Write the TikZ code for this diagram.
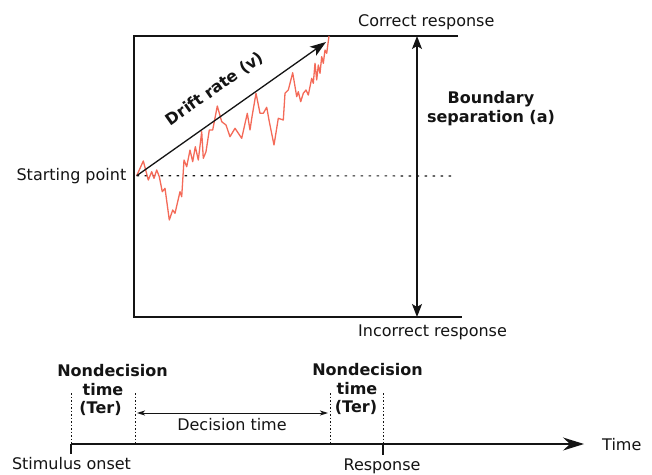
\documentclass[tikz,border=0pt]{standalone}
\usepackage{fontspec}
\setmainfont{DejaVu Sans}
\usetikzlibrary{arrows.meta}
\definecolor{walkred}{RGB}{244,106,88}
\definecolor{ink}{RGB}{20,20,20}
\begin{document}
\begin{tikzpicture}[x=1pt,y=-1pt,
  txt/.style={font=\fontsize{16}{19}\selectfont, inner sep=0pt, anchor=base, text=ink},
  btxt/.style={font=\fontsize{16}{19}\selectfont\bfseries, inner sep=0pt, anchor=base, text=ink},
  bound/.style={line width=1.5pt, draw=ink},
  bigarrow/.style={line width=1.3pt, draw=ink, -{Stealth[length=16pt,width=11pt,inset=4pt]}},
  dblarrow/.style={line width=1.3pt, draw=ink, {Stealth[length=13pt,width=10pt,inset=3pt]}-{Stealth[length=13pt,width=10pt,inset=3pt]}},
  smallarrow/.style={line width=1pt, draw=ink, {Stealth[length=8pt,width=5pt,inset=2pt]}-{Stealth[length=8pt,width=5pt,inset=2pt]}},
  timearrow/.style={line width=1.3pt, draw=ink, -{Stealth[length=21pt,width=13pt,inset=7pt]}},
  dotline/.style={line width=1.1pt, draw=ink, dash pattern=on 2.5pt off 5.5pt},
  fineline/.style={line width=1pt, draw=ink, dash pattern=on 1.5pt off 2pt},
  walk/.style={line width=1.3pt, draw=walkred, line join=round}
]
\fill[white] (0,0) rectangle (652,474);
\useasboundingbox (0,0) rectangle (652,474);

% boundaries box
\coordinate (TR) at (458,36);
\coordinate (TL) at (134,36);
\coordinate (BL) at (134,317);
\coordinate (BR) at (462,317);
\draw[bound] (TR) -- (TL) -- (BL) -- (BR);

% starting point dotted line
\coordinate (S) at (136.7,175.7);
\coordinate (SD) at (452,176);
\draw[dotline] (S) -- (SD);

% random walk
\draw[walk] (136.7,175.7) -- (143.3,161) -- (148.3,180) -- (151.7,171.7) -- (154,178.3) -- (156.7,170) -- (159.3,176.7) -- (162.3,191.7) -- (165,188.3) -- (169.3,220) -- (172.7,210) -- (175,213.3) -- (180,191.7) -- (181.7,196.7) -- (184,160) -- (186.7,166.7) -- (190,150) -- (192.7,161.7) -- (195.3,146.7) -- (198.3,160) -- (201.7,131.7) -- (203.3,158.3) -- (206,151.7) -- (209.3,130) -- (212.7,130) -- (217.3,106) -- (221.7,121.7) -- (226,125) -- (230,136.7) -- (235,128.3) -- (241.7,138.3) -- (247.3,113.3) -- (250,130) -- (252,116.7) -- (256,93.3) -- (260,113.3) -- (263.3,113.3) -- (266.7,107.3) -- (269.3,121.7) -- (274,145) -- (278.3,118.3) -- (283.3,120) -- (285,93.3) -- (288.3,90) -- (292.7,72.7) -- (296.7,96.7) -- (298.3,91.7) -- (300.7,101.7) -- (303.3,93.3) -- (306,90) -- (308.3,95) -- (311.7,78.3) -- (313.3,83.3) -- (315,63.3) -- (316.7,80) -- (318.3,65) -- (320,73.3) -- (321.7,56.7) -- (323.3,63.3) -- (325,50) -- (326.7,53.3) -- (329,36);

% drift arrow
\coordinate (E) at (326,42);
\draw[bigarrow] (S) -- (E);
\node[btxt, anchor=center, rotate=35.1] (drift) at (215,89) {Drift rate (v)};

% boundary separation arrow
\coordinate (AT) at (417,36);
\coordinate (AB) at (417,317);
\draw[dblarrow] (AT) -- (AB);
\node[btxt] (bsep1) at (491,103.5) {Boundary};
\node[btxt] (bsep2) at (491,122.7) {separation (a)};

% labels
\node[txt, anchor=base west] (correct) at (358,26.5) {Correct response};
\node[txt, anchor=base west] (incorrect) at (358,336.7) {Incorrect response};
\node[txt, anchor=base east] (startpt) at (126.5,180) {Starting point};

% timeline
\coordinate (T0) at (71,444);
\coordinate (T1) at (584,444);
\draw[timearrow] (T0) -- (T1);
\coordinate (K0) at (71,453.5);
\coordinate (R0) at (383,444);
\coordinate (R1) at (383,455);
\draw[line width=1.3pt, draw=ink] (T0) -- (K0);
\draw[line width=1.3pt, draw=ink] (R0) -- (R1);

% dashed verticals
\coordinate (V1t) at (71,393);
\coordinate (V2t) at (135,393);
\coordinate (V2b) at (135,444);
\coordinate (V3t) at (330,393);
\coordinate (V3b) at (330,444);
\coordinate (V4t) at (383,393);
\draw[fineline] (V1t) -- (T0);
\draw[fineline] (V2t) -- (V2b);
\draw[fineline] (V3t) -- (V3b);
\draw[fineline] (V4t) -- (R0);

% decision time arrow
\coordinate (D0) at (137,413);
\coordinate (D1) at (328,413);
\draw[smallarrow] (D0) -- (D1);
\node[txt] (dec) at (232,430) {Decision time};

% nondecision labels
\node[btxt] (nd1a) at (112.5,376) {Nondecision};
\node[btxt] (nd1b) at (103,395) {time};
\node[btxt] (nd1c) at (100.5,413.5) {(Ter)};
\node[btxt] (nd2a) at (367.5,375) {Nondecision};
\node[btxt] (nd2b) at (357,394) {time};
\node[btxt] (nd2c) at (356,412.7) {(Ter)};

\node[txt, anchor=base west] (time) at (602,450) {Time};
\node[txt] (stim) at (71.5,469.5) {Stimulus onset};
\node[txt] (resp) at (382,470) {Response};
\end{tikzpicture}
\end{document}
